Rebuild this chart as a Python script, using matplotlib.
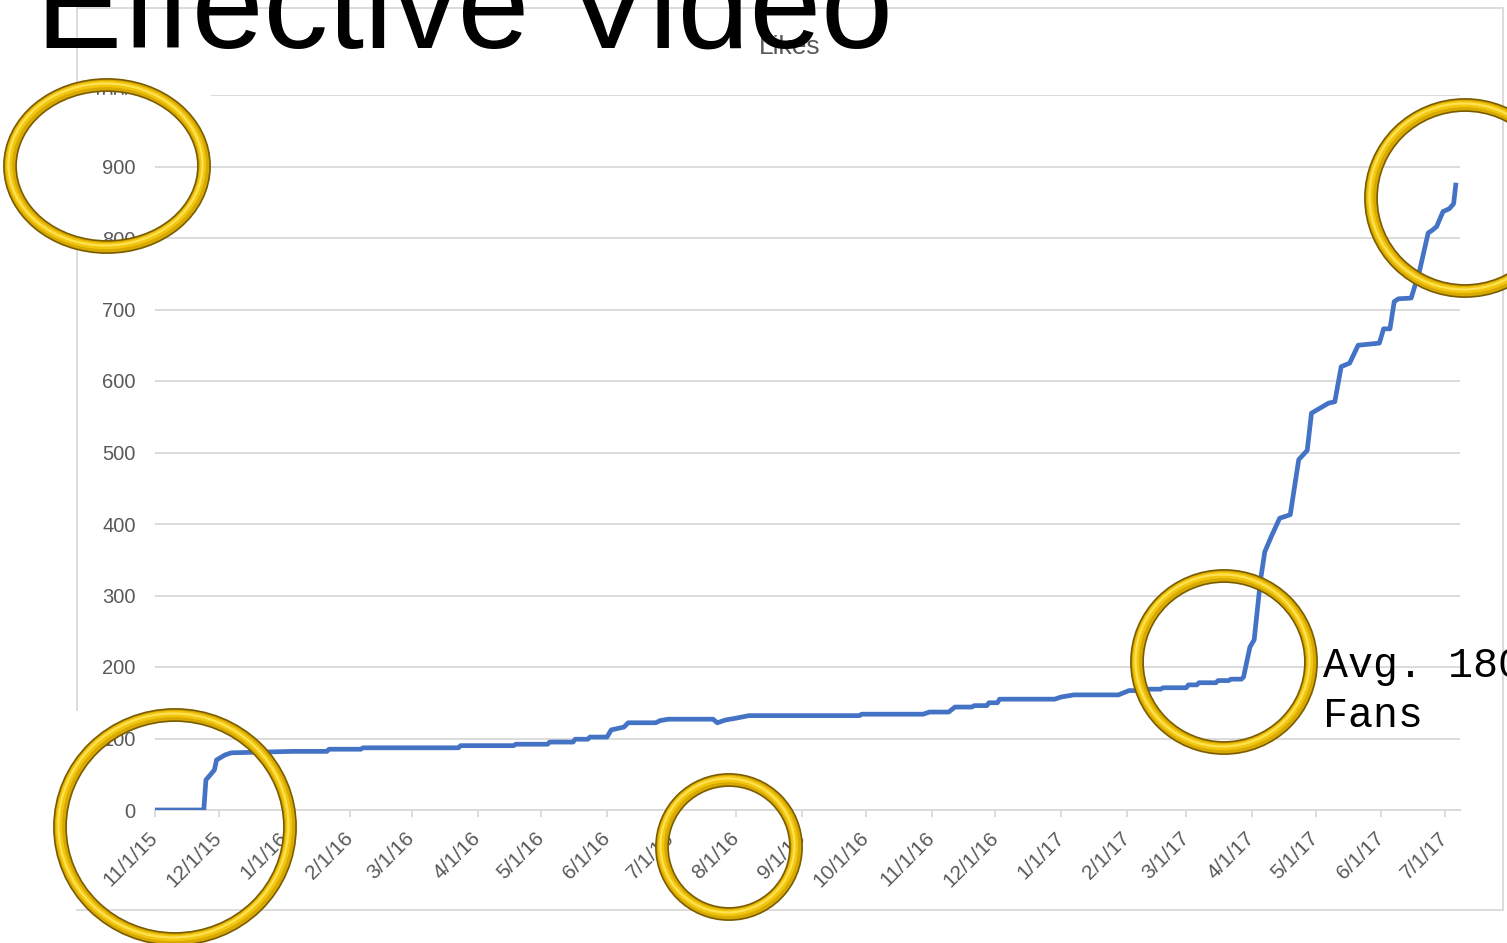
import matplotlib
matplotlib.use("Agg")
import matplotlib.pyplot as plt
import matplotlib.dates as mdates
from matplotlib.patches import Ellipse, Rectangle

# cumulative page likes
dates = ['2015-11-01', '2015-11-24', '2015-11-25', '2015-11-27', '2015-11-29',
         '2015-11-30', '2015-12-04', '2015-12-07', '2016-01-05', '2016-01-21',
         '2016-01-22', '2016-02-06', '2016-02-07', '2016-03-23', '2016-03-24',
         '2016-04-18', '2016-04-19', '2016-05-04', '2016-05-05', '2016-05-16',
         '2016-05-17', '2016-05-23', '2016-05-24',
         '2016-06-01', '2016-06-03', '2016-06-09', '2016-06-11', '2016-06-24',
         '2016-06-26', '2016-06-30', '2016-07-21', '2016-07-23', '2016-07-27',
         '2016-07-31', '2016-08-07', '2016-09-28', '2016-09-29', '2016-10-28',
         '2016-10-31', '2016-11-09', '2016-11-12', '2016-11-20', '2016-11-21',
         '2016-11-27', '2016-11-28', '2016-12-02',
         '2016-12-03', '2016-12-29', '2017-01-01', '2017-01-07', '2017-01-28',
         '2017-02-02', '2017-02-10', '2017-02-11', '2017-02-17', '2017-02-18',
         '2017-03-01', '2017-03-02', '2017-03-06', '2017-03-07', '2017-03-15',
         '2017-03-16', '2017-03-21', '2017-03-22', '2017-03-27', '2017-03-28',
         '2017-03-31', '2017-04-02',
         '2017-04-05', '2017-04-07', '2017-04-10', '2017-04-14', '2017-04-19',
         '2017-04-23', '2017-04-27', '2017-04-29', '2017-05-03', '2017-05-07',
         '2017-05-10', '2017-05-13', '2017-05-17', '2017-05-21', '2017-05-31',
         '2017-06-02', '2017-06-05', '2017-06-07', '2017-06-09', '2017-06-15',
         '2017-06-19', '2017-06-23', '2017-06-25', '2017-06-27', '2017-06-30',
         '2017-07-03', '2017-07-05', '2017-07-06']
likes = [0, 0, 42, 49, 56,
         70, 77, 80, 82, 82,
         85, 85, 87, 87, 90,
         90, 92, 92, 95, 95,
         99, 99, 102,
         102, 112, 116, 122, 122,
         125, 127, 127, 122, 126,
         128, 132, 132, 134, 134,
         137, 137, 144, 144, 146,
         146, 150, 150,
         155, 155, 158, 161, 161,
         167, 167, 169, 169, 171,
         171, 175, 175, 178, 178,
         181, 181, 183, 183, 186,
         228, 238,
         322, 361, 382, 408, 413,
         490, 503, 555, 562, 569,
         571, 620, 625, 650, 653,
         673, 673, 711, 715, 716,
         755, 807, 811, 816, 837,
         841, 848, 874]

tick_dates = ['2015-11-01', '2015-12-01', '2016-01-01', '2016-02-01', '2016-03-01',
              '2016-04-01', '2016-05-01', '2016-06-01', '2016-07-01', '2016-08-01',
              '2016-09-01', '2016-10-01', '2016-11-01', '2016-12-01', '2017-01-01',
              '2017-02-01', '2017-03-01', '2017-04-01', '2017-05-01', '2017-06-01',
              '2017-07-01']
tick_labels = ['11/1/15', '12/1/15', '1/1/16', '2/1/16', '3/1/16', '4/1/16',
               '5/1/16', '6/1/16', '7/1/16', '8/1/16', '9/1/16', '10/1/16',
               '11/1/16', '12/1/16', '1/1/17', '2/1/17', '3/1/17', '4/1/17',
               '5/1/17', '6/1/17', '7/1/17']
y_ticks = [0, 100, 200, 300, 400, 500, 600, 700, 800, 900, 1000]

# gold rings drawn over the slide (centre x, centre y, width, height in px)
rings = [(107, 166, 194, 162), (175, 827, 230, 224), (729, 847, 134, 134),
         (1224, 662, 174, 172), (1465, 198, 188, 186)]

W, H = 1507, 943
grey = '#D9D9D9'
txt = '#595959'

fig = plt.figure(figsize=(W / 100, H / 100), dpi=100)
fig.patch.set_facecolor('white')

ax = fig.add_axes([155 / W, 1 - 810 / H, 1305 / W, 715 / H])
x = mdates.datestr2num(dates)
ax.plot(x, likes, color='#4472C4', lw=3.4, solid_joinstyle='round', zorder=3)

ax.set_xlim(mdates.datestr2num('2015-11-01'), mdates.datestr2num('2017-07-08'))
ax.set_ylim(0, 1000)
ax.set_xticks(mdates.datestr2num(tick_dates))
ax.set_xticklabels(tick_labels, rotation=45, ha='right', va='center',
                   rotation_mode='anchor')
ax.set_yticks(y_ticks)
ax.set_yticklabels([str(v) for v in y_ticks])
for lab in ax.get_xticklabels():
    lab.set_family('Liberation Sans')
    lab.set_fontsize(15)
    lab.set_color(txt)
for lab in ax.get_yticklabels():
    lab.set_family('Liberation Sans')
    lab.set_fontsize(14.5)
    lab.set_color(txt)
ax.tick_params(axis='x', length=5, width=1.3, color=grey, pad=13)
ax.tick_params(axis='y', length=0, pad=14)
for s in ['top', 'right', 'left']:
    ax.spines[s].set_visible(False)
ax.spines['bottom'].set_color(grey)
ax.spines['bottom'].set_linewidth(1.3)
ax.grid(axis='y', color=grey, lw=1.3)
ax.set_axisbelow(True)

# overlay in pixel coordinates for frame, titles and rings
ov = fig.add_axes([0, 0, 1, 1], zorder=5)
ov.set_xlim(0, W)
ov.set_ylim(H, 0)
ov.axis('off')

# chart frame (pieces hidden behind pasted ring images on the slide)
ov.plot([77, 1503, 1503, 77], [8, 8, 910, 910], color=grey, lw=1.3, zorder=1)
ov.plot([77, 77], [8, 90], color=grey, lw=1.3, zorder=1)
ov.plot([77, 77], [250, 710], color=grey, lw=1.3, zorder=1)
ov.add_patch(Rectangle((0, 94.5), 210, 10, color='white', zorder=1.5))

ov.text(790, 47, 'Likes', ha='center', va='center', fontsize=19, color=txt,
        family='Liberation Sans', zorder=2)
ov.text(36, 48, 'Effective Video', ha='left', va='baseline', fontsize=93,
        family='Liberation Sans', color='black', zorder=3)

for cx, cy, w, h in rings:
    ov.add_patch(Ellipse((cx, cy), w, h, fill=False, ec='#7A5C00', lw=10, zorder=4))
    ov.add_patch(Ellipse((cx, cy), w, h, fill=False, ec='#D8A900', lw=7.6, zorder=4))
    ov.add_patch(Ellipse((cx - 1, cy - 1), w, h, fill=False, ec='#F3C60E', lw=4.6, zorder=4))
    ov.add_patch(Ellipse((cx - 1.5, cy - 1.5), w, h, fill=False, ec='#FFE254', lw=1.6, zorder=4))

ov.text(1323, 677, 'Avg. 180', ha='left', va='baseline', fontsize=30,
        family='Liberation Mono', color='black', zorder=3)
ov.text(1323, 727, 'Fans', ha='left', va='baseline', fontsize=30,
        family='Liberation Mono', color='black', zorder=3)

fig.savefig('out.png', dpi=100, facecolor='white')
